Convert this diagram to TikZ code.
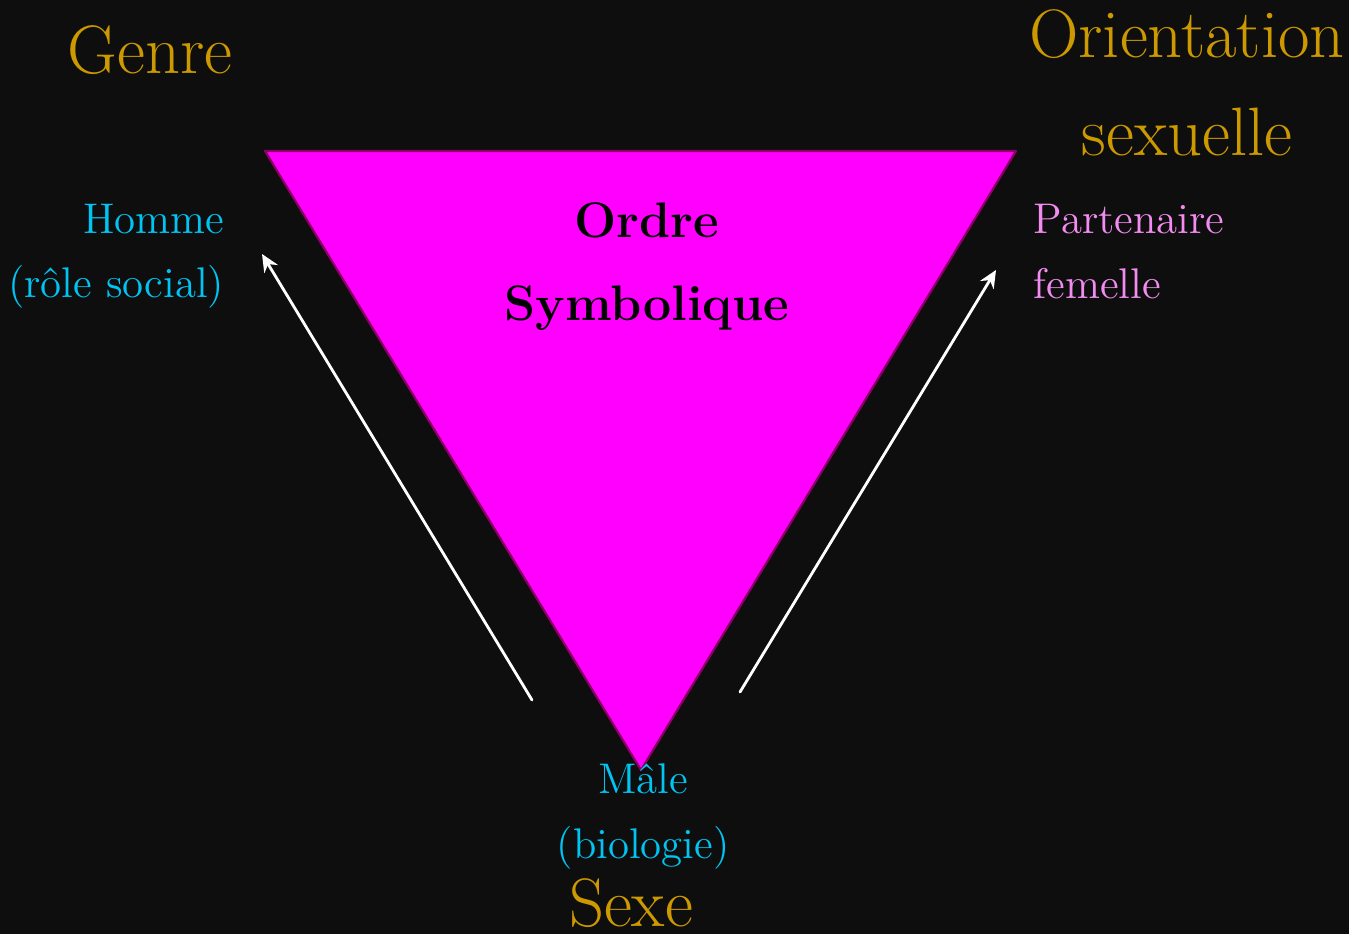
\documentclass[tikz,border=0pt]{standalone}
\usetikzlibrary{arrows.meta}
\definecolor{fond}{HTML}{0E0E0E}
\definecolor{or}{HTML}{CC9900}
\definecolor{cyan}{HTML}{00C4F2}
\definecolor{rose}{HTML}{F28CF0}
\definecolor{bord}{HTML}{8A0064}
\definecolor{fuchsia}{HTML}{FF00FF}
\begin{document}
\begin{tikzpicture}[line join=round, line cap=round, >={Stealth[length=5pt,width=4.5pt]},
		every node/.style={inner sep=0pt},
		titre/.style={text=or, font=\fontsize{19.5}{22}\selectfont, anchor=base},
		etiq/.style={font=\fontsize{12.2}{14}\selectfont, anchor=base},
		ordre/.style={font=\bfseries\fontsize{14.2}{16}\selectfont, anchor=base},
		fleche/.style={->, white, line width=0.8pt}]
			\def\W{13.49} \def\H{9.34} % largeur, hauteur
			\fill[fond] (0,0) rectangle (\W,\H);
			\useasboundingbox (0,0) rectangle (\W,\H);
			% triangle
			\coordinate (G) at (2.65,7.83);
			\coordinate (D) at (10.16,7.83);
			\coordinate (S) at (6.41,1.64);
			\filldraw[fill=fuchsia, draw=bord, line width=0.6pt] (G)--(D)--(S)--cycle;
			\node[ordre] (o1) at (6.47,6.97) {Ordre};
			\node[ordre] (o2) at (6.47,6.14) {Symbolique};
			% titres
			\node[titre] (genre) at (1.50,8.61) {Genre};
			\node[titre] (orient) at (11.87,8.77) {Orientation};
			\node[titre] (sexuel) at (11.87,7.79) {sexuelle};
			\node[titre] (sexe) at (6.31,0.08) {Sexe};
			% etiquettes
			\node[etiq, text=cyan, anchor=base east] (homme) at (2.25,7.01) {Homme};
			\node[etiq, text=cyan, anchor=base east] (role) at (2.25,6.37) {(rôle social)};
			\node[etiq, text=rose, anchor=base west] (part) at (10.33,7.01) {Partenaire};
			\node[etiq, text=rose, anchor=base west] (fem) at (10.33,6.36) {femelle};
			\node[etiq, text=cyan] (male) at (6.43,1.41) {Mâle};
			\node[etiq, text=cyan] (bio) at (6.43,0.76) {(biologie)};
			% fleches
			\coordinate (a1) at (5.32,2.34); \coordinate (b1) at (2.62,6.80);
			\coordinate (a2) at (7.40,2.42); \coordinate (b2) at (9.96,6.64);
			\draw[fleche] (a1)--(b1);
			\draw[fleche] (a2)--(b2);
		\end{tikzpicture}
\end{document}
